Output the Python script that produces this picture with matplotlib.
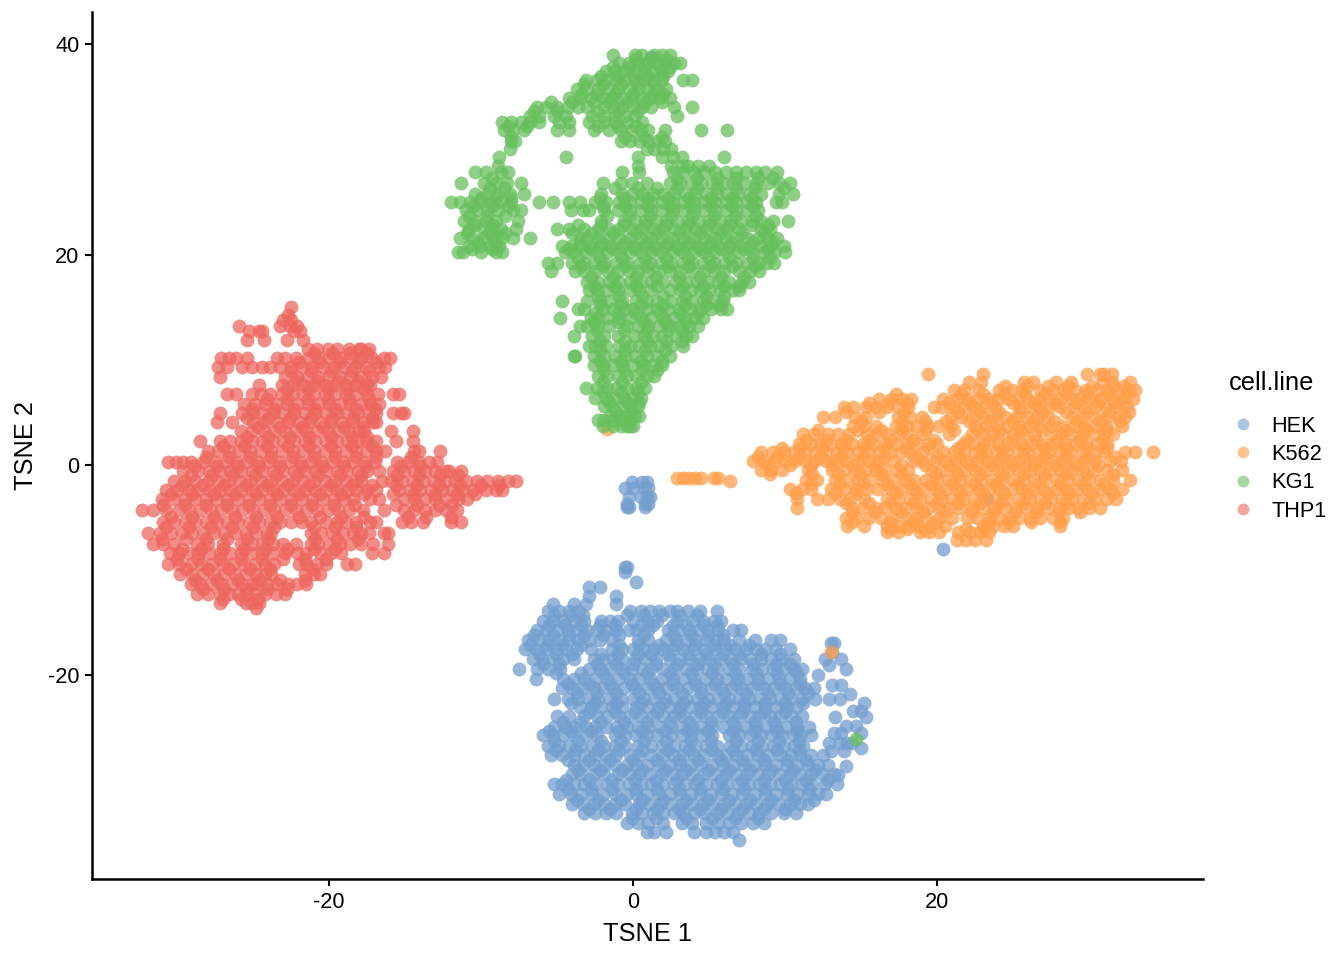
#!/usr/bin/python

import matplotlib
matplotlib.use("Agg")
import matplotlib.pyplot as plt
from matplotlib.lines import Line2D

plt.rcParams['font.family'] = ['Liberation Sans', 'DejaVu Sans']
plt.rcParams['axes.unicode_minus'] = False

# points, row by row: (TSNE 2, [TSNE 1 values])
hek_rows = [
    (-9.7, [-0.5, -0.4]), (-10.2, [-0.5]), (-11.1, [0.2]),
    (-1.6, [-0.1, 0.6, 0.9]), (-2.2, [-0.5, 0.0, 0.7, 1.0]), (-3.0, [-0.3, 0.5, 0.9, 1.1]),
    (-3.7, [-0.4, 0.8, 1.0]), (-4.0, [-0.4, -0.3, 0.8]),
    (-11.6, [-2.9, -2.2]), (-12.5, [-2.9, -1.1]), (-13.2, [-5.3, -3.9, -3.1, -1.1]),
    (-13.9, [-5.6, -4.9, -4.2, -3.6, -0.2, 0.5, 1.1, 1.7, 2.4, 2.9, 3.6, 4.4, 5.5]),
    (-14.8, [-5.9, -5.3, -4.6, -3.9, -3.2, -2.1, -1.5, -1.0, 0.0, 0.9, 1.6, 2.9, 3.9, 4.6, 5.3, 5.8]),
    (-15.7, [-6.3, -5.7, -5.0, -4.3, -3.7, -3.0, -2.4, -1.8, -1.1, -0.3, 0.2, 1.0, 2.3, 3.0, 3.7, 4.3, 4.9, 5.6, 6.6, 7.1]),
    (-16.6, [-6.9, -6.2, -5.6, -4.9, -4.2, -3.6, -2.9, -2.2, -1.4, 0.3, 1.0, 2.2, 2.8, 3.5, 4.1, 4.8, 5.5, 6.0, 7.0, 8.0, 9.1, 9.7]),
    (-17.5, [-7.1, -6.4, -5.7, -5.0, -4.4, -3.7, -2.8, -1.4, -0.7, 0.0, 0.7, 1.4, 2.0, 2.6, 3.3, 4.0, 4.7, 5.4, 6.1, 6.7, 7.4, 8.1, 8.7, 9.4, 10.3]),
    (-18.4, [-6.6, -6.0, -5.3, -4.6, -3.9, -2.6, -2.0, -1.3, -0.7, 0.1, 0.8, 1.5, 2.4, 3.1, 3.7, 4.4, 5.0, 5.7, 6.4, 7.1, 7.7, 8.4, 9.1, 9.8, 10.6]),
    (-19.4, [-7.5, -6.3, -5.6, -4.8, -2.9, -2.2, -1.5, -0.8, -0.1, 0.6, 1.2, 2.0, 2.7, 3.5, 4.2, 4.9, 5.5, 6.3, 7.0, 7.8, 8.5, 9.2, 9.9, 10.6, 11.1]),
    (-20.3, [-6.4, -4.6, -3.9, -3.2, -2.5, -1.7, -1.0, -0.2, 0.4, 1.1, 1.9, 2.6, 3.3, 4.0, 4.8, 5.5, 6.1, 6.9, 7.5, 8.2, 8.9, 9.6, 10.3, 11.0]),
    (-21.2, [-4.7, -4.0, -3.3, -2.6, -2.0, -1.3, -0.6, 0.1, 0.9, 1.6, 2.2, 2.9, 3.6, 4.4, 5.1, 5.8, 6.5, 7.1, 7.8, 8.6, 9.3, 10.0, 10.7, 11.3, 11.9]),
    (-22.2, [-5.2, -4.3, -3.6, -2.9, -2.3, -1.5, -0.8, 0.0, 0.7, 1.4, 2.1, 2.7, 3.5, 4.2, 4.9, 5.6, 6.3, 7.0, 7.6, 8.3, 9.0, 9.7, 10.4, 11.1, 12.0]),
    (-23.0, [-3.5, -2.8, -2.1, -1.4, -0.7, 0.2, 0.9, 1.7, 2.4, 3.1, 3.8, 4.4, 5.2, 5.9, 6.6, 7.3, 8.0, 8.7, 9.4, 10.1, 10.8]),
    (-23.9, [-5.0, -4.2, -3.2, -2.4, -1.7, -0.9, -0.2, 0.5, 1.3, 2.0, 2.7, 3.3, 4.1, 4.8, 5.6, 6.3, 7.0, 7.7, 8.3, 9.0, 9.7, 10.4, 11.1]),
    (-24.9, [-5.2, -4.5, -3.8, -3.1, -2.5, -1.8, -1.1, -0.4, 0.3, 1.0, 1.8, 2.5, 3.2, 3.9, 4.5, 5.2, 6.0, 6.7, 7.4, 8.1, 8.8, 9.4, 10.1, 10.8, 11.6]),
    (-25.7, [-5.9, -5.3, -4.6, -3.9, -3.1, -2.4, -1.2, -0.5, 0.2, 0.9, 1.6, 2.5, 3.2, 3.8, 4.5, 5.2, 6.3, 7.0, 7.7, 8.4, 9.1, 9.8, 10.5, 11.0, 11.7]),
    (-26.7, [-5.6, -4.9, -4.2, -3.4, -2.7, -1.9, -1.2, -0.5, 0.3, 1.2, 1.9, 2.7, 3.4, 4.1, 4.8, 5.5, 6.4, 7.1, 7.8, 8.5, 9.2, 9.9, 10.6, 11.2]),
    (-27.6, [-5.4, -4.7, -3.9, -3.2, -2.5, -1.8, -1.1, -0.2, 0.4, 1.2, 2.0, 2.6, 3.3, 4.0, 4.7, 5.5, 6.1, 6.8, 7.5, 8.2, 8.9, 9.7, 10.4, 11.0, 11.7, 12.5]),
    (-28.5, [-3.9, -3.3, -2.6, -1.9, -1.2, -0.4, 0.2, 0.9, 1.7, 2.4, 3.1, 3.8, 4.5, 5.2, 5.9, 6.6, 7.3, 8.0, 8.7, 9.4, 10.1, 10.8, 11.5, 12.2, 12.8]),
    (-29.4, [-4.0, -3.4, -2.6, -1.9, -1.0, -0.3, 0.4, 1.1, 1.9, 2.6, 3.2, 3.9, 4.7, 5.4, 6.1, 6.8, 7.5, 8.2, 8.9, 9.6, 10.3, 11.0, 11.7, 12.4, 13.2]),
    (-30.3, [-5.2, -4.7, -3.9, -3.2, -2.5, -1.7, -1.0, -0.3, 0.5, 1.2, 2.0, 2.7, 3.4, 4.1, 4.8, 5.5, 6.2, 6.9, 7.6, 8.3, 9.0, 9.7, 10.4, 11.1, 11.8, 12.6, 13.4]),
    (-31.3, [-4.9, -4.1, -3.4, -2.7, -2.0, -1.2, -0.4, 0.2, 0.9, 1.7, 2.4, 3.1, 3.8, 4.4, 5.1, 5.8, 6.5, 7.2, 8.0, 8.7, 9.4, 10.1, 10.8, 11.5, 12.2, 12.7]),
    (-32.2, [-4.0, -3.3, -2.6, -1.9, -1.2, -0.5, 0.4, 1.1, 1.8, 2.5, 3.2, 3.9, 4.6, 5.2, 6.0, 6.7, 7.4, 8.1, 8.8, 9.6, 10.3, 11.0, 11.5]),
    (-33.1, [-3.2, -2.5, -1.8, -1.1, -0.1, 0.6, 1.3, 2.0, 2.7, 3.3, 4.0, 4.7, 5.5, 6.2, 6.9, 7.6, 8.3, 9.1, 9.9, 10.7]),
    (-34.0, [-0.4, 0.3, 1.0, 2.0, 3.2, 3.9, 4.8, 5.6, 6.3, 7.1, 7.9, 8.6]),
    (-34.9, [0.9, 1.4, 2.2, 4.0, 4.8, 5.4, 6.0, 6.6]), (-35.6, [7.0]),
    # small group on the right side
    (-16.9, [13.0, 13.2]), (-17.8, [13.1]), (-18.4, [12.6, 13.7]), (-19.0, [12.9]),
    (-19.4, [14.0]), (-20.0, [12.2]), (-20.9, [13.1, 13.7]), (-21.8, [14.3]), (-22.2, [12.9, 13.6]),
    (-22.6, [15.2]), (-23.4, [14.5, 15.0]), (-24.0, [13.3, 15.3]), (-24.8, [14.0, 14.7]), (-25.5, [13.2, 13.7, 15.0]),
    (-26.4, [12.9, 13.6, 14.1, 14.4]), (-27.2, [13.0, 13.9]), (-26.9, [15.0]), (-28.6, [14.0]), (-29.5, [13.5]),
]
# second pass over the dense parts
hek_core = [
    (-14.3, [-5.2, -4.1, -3.3, -0.4, 0.7, 1.9, 3.1, 4.2]),
    (-15.2, [-5.5, -4.5, -3.4, -2.2, -1.2, 0.5, 1.3, 2.6, 3.5, 4.6, 5.5]),
    (-16.2, [-6.5, -5.3, -4.2, -3.2, -2.0, -0.9, 0.7, 2.6, 3.8, 4.9, 5.9]),
    (-17.1, [-6.8, -5.6, -4.7, -3.4, -0.9, 0.4, 1.7, 2.9, 4.1, 5.3, 6.4, 7.6]),
    (-18.0, [-6.2, -5.1, -4.0, -2.1, -1.0, 0.3, 1.2, 2.3, 3.6, 4.8, 5.9, 7.0, 8.4, 9.7]),
    (-18.9, [-5.9, -4.9, -2.4, -1.1, 0.0, 1.5, 2.9, 4.2, 5.3, 6.6, 7.9, 9.4, 10.3]),
    (-19.8, [-5.1, -3.4, -2.0, -0.6, 0.9, 2.4, 3.8, 5.2, 6.7, 8.1, 9.5, 10.8]),
    (-20.8, [-4.3, -2.9, -1.5, -0.1, 1.3, 2.6, 4.1, 5.4, 6.8, 8.2, 9.7, 11.0]),
    (-21.7, [-3.7, -2.4, -1.1, 0.4, 1.7, 3.2, 4.5, 6.0, 7.4, 8.9, 10.2, 11.5]),
    (-22.6, [-4.1, -2.5, -1.1, 0.5, 2.0, 3.3, 4.7, 6.1, 7.3, 8.7, 10.0, 11.2]),
    (-23.5, [-2.9, -1.2, 0.1, 1.6, 3.0, 4.5, 5.9, 7.2, 8.6, 10.0]),
    (-24.4, [-4.6, -3.5, -2.1, -0.6, 0.9, 2.4, 3.7, 5.1, 6.6, 8.0, 9.3, 10.7]),
    (-25.3, [-5.5, -4.1, -2.8, -0.9, 0.6, 2.1, 3.6, 4.9, 6.6, 8.0, 9.5, 10.8]),
    (-26.2, [-5.2, -3.6, -2.1, -0.8, 0.7, 2.2, 3.8, 5.1, 6.8, 8.2, 9.6, 10.9]),
    (-27.1, [-5.1, -3.8, -2.3, -0.9, 0.6, 2.3, 3.7, 5.2, 6.6, 8.1, 9.5, 10.9]),
    (-28.0, [-4.3, -2.9, -1.5, 0.0, 1.6, 3.0, 4.3, 5.8, 7.2, 8.6, 10.1, 11.4]),
    (-29.0, [-3.6, -2.2, -0.7, 0.6, 2.1, 3.5, 4.9, 6.3, 7.7, 9.1, 10.5, 12.0]),
    (-29.9, [-4.4, -2.9, -1.4, 0.1, 1.5, 2.9, 4.3, 5.8, 7.2, 8.6, 10.0, 11.4, 12.8]),
    (-30.8, [-4.3, -2.8, -1.4, 0.2, 1.6, 3.0, 4.4, 5.9, 7.3, 8.7, 10.2, 11.6]),
    (-31.8, [-3.7, -2.3, -0.8, 0.6, 2.0, 3.5, 4.9, 6.3, 7.7, 9.1, 10.6, 11.9]),
    (-32.7, [-2.9, -1.5, 0.2, 1.6, 3.0, 4.4, 5.8, 7.2, 8.6, 10.0]),
    (-33.6, [-0.1, 1.5, 3.5, 5.2, 6.7, 8.2]),
]

k562_rows = [
    (8.6, [19.4, 23.0, 29.9, 30.7, 31.0, 31.5]), (7.9, [22.1, 22.9, 25.7, 26.3, 27.8, 28.8, 30.9, 31.5, 32.7]),
    (7.1, [21.1, 21.8, 22.7, 24.1, 24.9, 25.6, 26.8, 27.6, 28.3, 29.1, 29.8, 30.5, 31.2, 31.9, 32.6, 33.0]),
    (6.3, [16.2, 17.0, 17.7, 18.3, 20.4, 21.3, 22.0, 22.7, 23.4, 24.0, 24.7, 25.3, 26.0, 26.7, 27.4, 28.1, 28.8, 29.4, 30.1, 30.8, 31.5, 32.2, 32.9]),
    (5.5, [13.9, 14.5, 15.3, 16.0, 16.7, 17.4, 18.1, 19.8, 20.3, 21.1, 21.8, 22.4, 23.1, 23.8, 25.4, 26.1, 26.7, 27.4, 28.1, 29.0, 29.7, 30.4, 31.1, 31.8, 32.5]),
    (4.6, [12.5, 13.3, 14.6, 15.3, 17.4, 18.2, 19.0, 20.9, 21.6, 22.3, 23.0, 23.7, 24.5, 25.2, 25.9, 26.6, 27.3, 28.9, 29.6, 30.4, 31.1, 31.9, 32.4]),
    (3.7, [14.5, 15.2, 16.0, 17.3, 18.0, 18.7, 19.4, 20.1, 20.9, 22.5, 23.2, 24.0, 24.7, 25.4, 26.1, 26.8, 27.5, 28.2, 29.0, 29.7, 30.4, 31.1, 32.2]),
    (2.9, [11.2, 11.9, 12.8, 13.5, 14.2, 15.4, 16.0, 16.7, 17.5, 18.1, 19.0, 20.8, 22.3, 23.0, 23.6, 24.3, 25.0, 25.7, 26.4, 27.5, 28.2, 28.9, 29.6, 30.3, 31.0, 31.6]),
    (2.0, [10.9, 11.7, 12.3, 13.0, 13.7, 14.4, 15.1, 15.8, 16.6, 17.3, 18.0, 18.7, 19.4, 20.0, 21.7, 22.4, 23.1, 24.0, 24.7, 25.5, 26.2, 26.9, 27.6, 28.4, 29.1, 29.8, 30.5, 31.2]),
    (1.2, [8.4, 9.2, 9.9, 10.6, 11.3, 12.0, 12.7, 13.4, 14.1, 14.8, 15.5, 16.2, 16.9, 17.6, 18.2, 19.1, 20.4, 21.1, 21.8, 22.5, 23.2, 23.9, 24.6, 25.3, 26.0, 26.7, 27.4, 28.1, 28.8, 29.6, 30.4, 31.0, 32.4, 33.0, 34.2]),
    (0.4, [7.9, 8.6, 9.3, 10.0, 10.6, 11.3, 12.0, 12.7, 13.3, 14.0, 14.8, 15.5, 16.2, 17.1, 18.4, 19.0, 19.8, 20.5, 21.2, 21.9, 22.6, 23.3, 24.0, 24.7, 25.4, 26.1, 26.8, 27.5, 28.2, 28.9, 29.7, 30.4, 31.4, 32.1]),
    (-0.5, [8.4, 9.1, 9.8, 11.5, 13.1, 13.9, 14.6, 15.3, 16.0, 16.6, 17.4, 18.1, 19.6, 20.3, 21.1, 21.8, 22.5, 23.2, 24.0, 24.7, 25.4, 26.1, 26.8, 27.4, 28.1, 28.9, 29.6, 30.3, 31.2, 32.2]),
    (-1.4, [11.4, 12.1, 13.3, 14.1, 14.8, 15.5, 16.4, 17.1, 17.9, 18.5, 19.3, 20.0, 20.7, 21.5, 22.2, 22.9, 23.6, 24.3, 25.0, 25.7, 26.4, 27.1, 27.9, 28.6, 29.3, 30.0, 30.7, 31.6, 32.7]),
    (-2.3, [10.3, 11.1, 11.7, 13.0, 13.9, 14.7, 15.4, 16.1, 17.0, 17.7, 18.4, 19.1, 19.9, 20.6, 21.3, 22.0, 22.7, 23.4, 24.1, 24.9, 25.6, 26.3, 27.0, 27.8, 28.5, 29.2, 29.9, 30.7, 31.4, 32.2]),
    (-3.2, [10.8, 12.1, 12.8, 13.6, 14.3, 15.2, 16.7, 17.4, 18.2, 18.9, 19.6, 20.3, 21.0, 21.7, 22.4, 23.2, 23.9, 24.6, 25.4, 26.1, 26.8, 27.5, 28.2, 28.9, 29.6, 30.4, 31.2, 31.8]),
    (-4.1, [10.8, 14.4, 15.1, 16.0, 16.6, 17.3, 17.9, 18.7, 19.4, 20.1, 20.8, 21.5, 22.3, 23.0, 23.8, 24.5, 25.2, 25.9, 26.6, 27.3, 28.0, 28.7, 29.3, 30.0, 30.7]),
    (-5.0, [14.0, 14.7, 15.5, 16.3, 17.1, 18.0, 18.6, 19.3, 20.1, 21.0, 22.0, 22.6, 23.4, 24.1, 24.8, 25.4, 26.1, 26.8, 27.6, 28.3]),
    (-5.8, [14.1, 15.2, 16.7, 17.4, 18.1, 18.8, 19.6, 20.5, 23.0, 23.7, 24.4, 25.0, 28.1]),
    (-6.4, [16.7, 17.4, 18.9, 19.5, 20.1, 21.4, 22.2, 22.8, 23.4]), (-7.1, [21.3, 21.9, 22.5, 23.2]),
    # small run between the clusters
    (-1.2, [2.9, 3.3, 3.7, 4.1, 4.5, 5.3, 5.6]), (-1.5, [6.4]),
]
k562_core = [
    (7.5, [24.5, 25.9, 27.3, 28.6, 30.2, 31.6, 32.3]),
    (6.7, [17.3, 21.6, 23.0, 24.4, 25.8, 27.1, 28.5, 29.9, 31.3, 32.5]),
    (5.9, [15.5, 16.8, 18.0, 20.8, 22.2, 23.6, 25.0, 26.4, 27.8, 29.2, 30.6, 32.0]),
    (5.0, [14.0, 16.2, 17.8, 21.4, 22.8, 24.1, 25.5, 26.9, 28.5, 29.9, 31.3, 32.6]),
    (4.2, [15.0, 17.7, 19.2, 20.6, 22.1, 23.5, 24.9, 26.3, 27.7, 29.2, 30.7, 32.0]),
    (3.3, [12.2, 14.8, 16.3, 17.7, 19.3, 21.1, 22.7, 24.1, 25.5, 26.9, 28.4, 29.8, 31.2]),
    (2.4, [11.4, 12.7, 14.0, 15.5, 16.9, 18.4, 19.8, 22.0, 23.5, 25.0, 26.5, 27.9, 29.4, 30.9]),
    (1.6, [9.8, 11.0, 12.4, 13.8, 15.2, 16.6, 18.0, 19.5, 21.4, 22.9, 24.3, 25.7, 27.1, 28.5, 29.9, 31.2]),
    (0.8, [8.2, 9.5, 10.9, 12.3, 13.7, 15.1, 16.5, 18.6, 20.0, 21.5, 22.9, 24.3, 25.7, 27.1, 28.5, 29.9, 31.7]),
    (0.0, [8.9, 10.3, 11.7, 13.1, 14.5, 15.9, 17.6, 19.2, 20.8, 22.2, 23.6, 25.0, 26.4, 27.8, 29.2, 30.6]),
    (-0.9, [9.0, 11.8, 13.5, 14.9, 16.3, 17.7, 19.9, 21.4, 22.8, 24.3, 25.7, 27.1, 28.5, 29.9, 31.6]),
    (-1.8, [11.7, 13.6, 15.1, 16.7, 18.2, 19.6, 21.0, 22.5, 23.9, 25.3, 26.7, 28.1, 29.6, 31.0]),
    (-2.7, [10.7, 13.3, 14.7, 17.3, 18.7, 20.2, 21.6, 23.0, 24.4, 25.9, 27.3, 28.7, 30.2, 31.6]),
    (-3.6, [14.0, 15.5, 17.0, 18.5, 20.0, 21.4, 22.8, 24.2, 25.7, 27.1, 28.5, 30.0]),
    (-4.5, [14.4, 15.9, 17.6, 19.1, 20.5, 22.3, 23.7, 25.1, 26.5, 28.0, 29.4]),
    (-5.4, [14.4, 16.9, 18.4, 19.9, 23.4, 24.7, 26.2, 28.1]),
    (-6.1, [17.0, 18.0, 19.2, 21.9, 23.1]),
]
k562_extra_x = [-1.7, 13.0]
k562_extra_y = [3.4, -17.8]

kg1_rows = [
    (39.0, [-1.3, 0.1, 0.6, 1.4, 1.9, 2.4]), (38.2, [-0.9, -0.3, 0.3, 0.9, 1.5, 2.1, 2.7, 3.1]),
    (37.4, [-1.8, -1.2, -0.6, 0.1, 0.7, 1.3, 1.9, 2.3]), (36.6, [-3.1, -2.4, -1.8, -1.1, -0.5, 0.1, 0.7, 1.3, 1.9, 3.3, 3.9]),
    (35.7, [-3.7, -3.0, -2.3, -1.6, -1.0, -0.3, 0.4, 1.0, 1.6, 2.2]), (34.9, [-4.2, -3.5, -2.8, -2.0, -1.4, -0.7, -0.1, 0.5, 1.1, 1.7, 2.4]),
    (34.0, [-6.3, -5.7, -5.0, -4.3, -3.6, -3.0, -1.9, -1.3, -0.7, 0.0, 0.6, 1.2, 2.7, 3.9]),
    (33.2, [-6.8, -6.2, -5.2, -4.4, -2.7, -1.9, -1.2, -0.5, 0.1, 2.9]),
    (32.6, [-8.6, -8.0, -7.4, -6.8, -6.2, -4.9, -4.2, -2.9, -1.9, -1.2, -0.4, 0.6]),
    (31.8, [-8.5, -7.9, -7.2, -5.0, -4.2, -2.6, -1.6, -0.8, -0.1, 0.5, 1.0, 2.1, 4.5, 6.2]),
    (30.8, [-8.0, -7.8, -0.8, -0.2, 0.4, 1.0, 1.6, 2.1]), (30.0, [-8.1, 0.9, 1.4, 2.0, 2.5]),
    (29.3, [-8.8, -4.4, 0.3, 1.9, 2.6, 3.2, 6.0]), (28.4, [-8.9, 0.3, 2.5, 3.3, 3.6, 4.3, 5.0]),
    (27.8, [-10.4, -9.7, -8.7, -8.2, -0.7, 0.4, 2.6, 3.3, 4.0, 4.7, 5.4, 6.1, 6.8, 7.4, 8.1, 8.7, 9.5]),
    (26.8, [-11.3, -9.8, -9.0, -8.3, -7.4, -2.0, -0.8, -0.1, 0.9, 2.4, 3.1, 3.8, 4.5, 5.2, 5.9, 6.6, 7.3, 8.1, 8.9, 9.6, 10.3]),
    (25.8, [-10.4, -9.6, -8.9, -8.1, -7.2, -2.1, -0.7, 0.0, 0.6, 1.3, 2.0, 2.7, 3.4, 4.1, 4.8, 5.5, 6.2, 6.9, 7.6, 8.4, 9.6, 10.5]),
    (25.0, [-12.0, -11.4, -10.7, -10.1, -9.4, -8.7, -8.0, -6.2, -5.3, -4.2, -3.5, -2.5, -1.8, -0.9, -0.2, 0.5, 1.2, 1.9, 2.6, 3.3, 4.0, 4.7, 5.4, 6.1, 6.8, 7.5, 8.1, 9.4, 9.8]),
    (24.2, [-11.0, -10.3, -9.6, -8.9, -7.9, -7.4, -4.1, -3.3, -2.9, -1.9, -1.0, -0.2, 0.5, 1.2, 1.9, 2.6, 3.3, 4.0, 4.7, 5.4, 6.1, 6.8, 7.5, 8.2]),
    (23.2, [-11.1, -10.4, -9.7, -9.0, -7.6, -2.1, -0.6, 0.1, 0.8, 1.5, 2.2, 2.9, 3.6, 4.3, 5.0, 5.7, 6.4, 7.1, 7.8, 8.4, 9.2, 10.2]),
    (22.4, [-10.8, -9.9, -9.3, -8.7, -7.7, -5.0, -4.2, -3.2, -2.3, -1.6, -0.9, -0.1, 0.6, 1.3, 2.0, 2.7, 3.4, 4.1, 4.8, 5.5, 6.2, 7.0, 8.4, 9.0]),
    (21.6, [-11.4, -10.6, -9.9, -9.2, -8.6, -7.9, -6.8, -3.5, -3.0, -2.3, -1.6, -0.9, -0.2, 0.5, 1.2, 1.9, 2.6, 3.3, 4.0, 4.7, 5.4, 6.1, 6.8, 7.5, 8.2, 8.9, 9.5]),
    (20.8, [-10.8, -10.1, -9.4, -8.8, -4.7, -4.1, -3.5, -2.9, -2.2, -1.5, -0.7, 0.0, 0.7, 1.4, 2.1, 2.8, 3.5, 4.2, 4.9, 5.6, 6.3, 7.0, 7.7, 8.4, 9.1, 9.9]),
    (20.2, [-11.5, -11.2, -10.0, -9.0, -8.6, -4.5, -3.9, -3.1, -2.4, -1.7, -0.9, -0.2, 0.5, 1.2, 1.9, 2.6, 3.3, 4.0, 4.7, 5.4, 6.2, 7.0, 7.8, 8.6, 9.3, 10.0]),
    (19.2, [-5.6, -5.0, -4.0, -3.2, -2.6, -1.9, -1.1, -0.4, 0.4, 1.1, 1.8, 2.5, 3.2, 3.9, 4.6, 5.3, 6.0, 6.8, 7.5, 8.3, 8.8, 9.3]),
    (18.4, [-5.4, -3.8, -3.2, -2.5, -1.7, -1.0, -0.3, 0.3, 1.0, 1.7, 2.4, 3.1, 3.9, 4.7, 5.3, 6.0, 7.0, 7.7, 8.3]),
    (17.4, [-3.0, -2.3, -1.6, -0.9, -0.2, 0.5, 1.2, 2.0, 2.8, 3.5, 4.2, 4.9, 5.6, 6.3, 7.2, 7.6]),
    (16.6, [-2.9, -2.4, -1.7, -1.0, -0.2, 0.4, 1.2, 2.4, 3.1, 3.8, 4.4, 5.0, 5.7, 6.6, 7.0]),
    (15.6, [-4.7, -3.0, -2.2, -1.5, -0.7, 0.2, 0.9, 1.6, 2.5, 3.2, 3.9, 4.6, 5.3, 5.9]),
    (14.8, [-3.6, -3.2, -2.0, -1.3, -0.5, 0.0, 0.9, 1.6, 2.3, 3.0, 3.8, 4.4, 5.1, 5.8, 6.2]),
    (14.0, [-4.8, -2.8, -2.3, -1.7, -0.9, -0.2, 0.5, 1.2, 2.0, 2.7, 3.4, 4.1, 4.6]),
    (13.2, [-3.5, -3.0, -2.3, -1.6, -0.4, 0.3, 1.0, 1.7, 2.4, 3.1, 3.7, 4.3]),
    (12.3, [-3.9, -2.7, -1.9, -1.0, 0.1, 0.7, 1.3, 1.9, 2.8, 3.5, 3.9]),
    (11.3, [-2.9, -2.5, -1.8, -0.9, -0.2, 0.4, 1.1, 1.7, 2.5, 3.3]),
    (10.4, [-3.9, -3.8, -2.6, -1.9, -1.2, -0.5, 0.1, 0.9, 1.6, 2.4]),
    (9.5, [-2.6, -2.0, -1.3, -0.7, 0.0, 0.7, 1.3, 1.9]), (8.5, [-2.3, -1.7, -1.0, -0.4, 0.2, 0.9, 1.4]),
    (7.3, [-3.1, -2.4, -1.7, -1.1, -0.4, 0.2, 0.8]), (6.4, [-2.5, -1.8, -1.2, -0.6, 0.0, 0.5]),
    (5.6, [-1.9, -1.4, -0.6, -0.2, 0.3]), (4.7, [-1.5, -0.9, -0.4, 0.1, 0.4]),
    (4.3, [-2.3, -1.9, -1.3, -0.7, -0.2]), (3.7, [-2.0, -1.3, -0.8, -0.4, -0.2, 0.0]),
]
kg1_core = [
    (38.6, [0.2, 1.2, 2.2]), (37.8, [-1.3, -0.3, 0.7, 1.8, 2.4]), (37.0, [-2.1, -1.0, 0.0, 1.0, 2.0]),
    (36.2, [-3.2, -2.0, -0.8, 0.3, 1.4]), (35.3, [-3.4, -2.4, -1.2, 0.0, 1.3, 2.0]),
    (34.5, [-5.4, -4.0, -2.6, -1.6, -0.4, 0.8, 1.9]), (33.6, [-6.5, -5.0, -2.4, -1.0, 0.3]),
    (32.2, [-8.2, -7.0, -2.3, -1.0, 0.2]), (31.2, [-8.0, -0.5, 0.7, 1.9]),
    (27.3, [-9.3, 2.9, 4.2, 5.5, 6.8, 8.2, 9.2]),
    (26.3, [-9.4, -8.5, -1.2, 0.3, 1.6, 2.9, 4.2, 5.5, 6.8, 8.0, 9.9]),
    (25.4, [-10.0, -9.0, -8.0, -2.2, -0.6, 0.9, 2.3, 3.7, 5.1, 6.5, 7.8]),
    (24.6, [-10.5, -9.3, -8.2, -2.0, -0.5, 1.0, 2.4, 3.8, 5.1, 6.5, 7.9]),
    (23.7, [-10.8, -9.6, -8.4, -1.7, -0.3, 1.1, 2.5, 3.9, 5.3, 6.7, 8.1]),
    (22.8, [-10.4, -9.2, -3.6, -2.1, -0.6, 0.8, 2.2, 3.6, 5.0, 6.4, 7.8, 8.9]),
    (22.0, [-10.9, -9.5, -8.4, -4.0, -2.7, -1.3, 0.2, 1.6, 3.0, 4.4, 5.8, 7.2, 8.6]),
    (21.2, [-10.2, -9.1, -3.5, -2.1, -0.5, 0.9, 2.3, 3.7, 5.1, 6.5, 7.9, 9.2]),
    (20.5, [-10.6, -9.3, -4.2, -2.8, -1.3, 0.1, 1.5, 3.0, 4.4, 5.8, 7.3, 8.9]),
    (19.7, [-3.6, -2.2, -0.7, 0.8, 2.2, 3.6, 5.0, 6.4, 7.9, 9.0]),
    (18.9, [-3.4, -2.0, -0.5, 0.9, 2.3, 3.7, 5.1, 6.5, 8.0]),
    (17.9, [-2.8, -1.3, 0.2, 1.5, 3.0, 4.4, 5.8, 7.3]),
    (17.0, [-2.6, -1.2, 0.2, 1.6, 3.2, 4.6, 6.0, 7.0]),
    (16.1, [-2.3, -0.9, 0.6, 2.0, 3.4, 4.8, 6.0]),
    (15.2, [-2.2, -0.8, 0.5, 2.0, 3.4, 4.8, 5.7]),
    (14.4, [-2.5, -1.0, 0.2, 1.8, 3.1, 4.3]), (13.6, [-2.6, -1.0, 0.7, 2.1, 3.5]),
    (12.8, [-2.4, -0.6, 0.9, 2.3, 3.2]), (11.8, [-2.2, -0.5, 0.9, 2.2, 3.2]),
    (10.9, [-2.2, -0.5, 0.8, 2.1]), (9.9, [-2.2, -0.8, 0.5, 1.9]), (9.0, [-1.9, -0.6, 0.6, 1.6]),
    (7.9, [-2.0, -0.7, 0.5]), (6.9, [-2.0, -0.8, 0.3]), (6.0, [-1.6, -0.4, 0.4]), (5.1, [-1.2, -0.1]),
]
kg1_extra_x = [14.7]
kg1_extra_y = [-26.0]

thp1_rows = [
    (15.0, [-22.5]), (14.3, [-22.7]), (13.8, [-23.0, -22.5]), (13.2, [-25.9, -23.2, -22.6, -22.1]),
    (12.7, [-25.3, -24.6, -24.4, -22.3, -21.9]), (11.9, [-25.4, -24.3, -22.8, -21.7]),
    (11.0, [-21.4, -20.8, -20.1, -19.5, -18.7, -18.0, -17.9, -17.4]),
    (10.2, [-27.1, -26.6, -26.1, -25.4, -23.4, -22.9, -22.2, -21.4, -20.7, -20.0, -19.3, -18.5, -17.9, -17.2, -16.4, -16.0]),
    (9.3, [-27.3, -26.7, -25.7, -25.1, -24.4, -23.9, -23.2, -22.5, -21.8, -21.1, -20.4, -19.7, -19.0, -18.3, -17.6, -16.7, -16.3]),
    (8.4, [-27.2, -22.9, -22.1, -21.4, -20.7, -20.0, -19.3, -18.6, -17.9, -17.2, -16.6]),
    (7.6, [-24.6, -23.1, -22.4, -21.7, -21.0, -20.3, -19.6, -18.9, -18.2, -17.5, -17.3]),
    (6.7, [-26.7, -26.1, -25.1, -24.5, -23.9, -23.1, -22.4, -21.7, -21.0, -20.3, -19.6, -18.9, -18.2, -17.5, -16.8, -15.8, -15.4]),
    (5.8, [-25.6, -24.9, -24.2, -23.5, -22.8, -22.1, -21.4, -20.7, -20.0, -19.3, -18.6, -17.9, -17.3, -16.7]),
    (4.9, [-27.2, -25.7, -25.0, -24.4, -23.7, -23.0, -22.3, -21.6, -20.9, -20.2, -19.5, -18.8, -18.1, -17.4, -16.9, -15.8, -15.3, -15.1]),
    (4.1, [-27.4, -26.4, -25.0, -24.3, -23.4, -22.7, -22.0, -21.3, -20.6, -19.9, -19.2, -18.5, -17.8, -17.1, -16.9]),
    (3.2, [-25.8, -25.1, -24.3, -23.6, -22.9, -22.2, -21.5, -20.8, -20.1, -19.4, -18.7, -18.0, -17.7, -15.9, -14.5]),
    (2.3, [-28.5, -27.2, -26.5, -25.8, -25.1, -24.4, -23.7, -23.0, -22.3, -21.6, -20.9, -20.2, -19.5, -18.8, -18.1, -17.6, -16.9, -15.6, -14.5]),
    (1.3, [-28.0, -27.3, -26.6, -25.9, -25.2, -24.5, -23.8, -23.1, -22.4, -21.7, -21.0, -20.3, -19.6, -18.9, -18.2, -17.5, -16.9, -16.3, -14.4, -14.1, -12.7]),
    (0.3, [-30.6, -30.1, -29.6, -29.1, -28.3, -27.5, -26.8, -26.1, -25.4, -24.7, -24.0, -23.3, -22.6, -21.9, -21.2, -20.5, -19.8, -19.1, -18.4, -17.7, -17.0, -15.5, -14.8, -14.1, -13.4, -12.9]),
    (-0.6, [-29.6, -28.6, -27.9, -27.2, -26.5, -25.8, -25.1, -24.4, -23.7, -23.0, -22.3, -21.6, -20.9, -20.2, -19.5, -18.8, -18.1, -17.5, -16.7, -15.8, -15.1, -14.4, -13.7, -13.0, -12.3, -12.1, -11.3]),
    (-1.5, [-30.2, -29.5, -28.8, -28.0, -27.3, -26.6, -25.9, -25.2, -24.5, -23.8, -23.1, -22.4, -21.7, -21.0, -20.3, -19.6, -18.9, -18.2, -17.9, -16.5, -15.9, -15.2, -14.5, -13.8, -13.1, -12.4, -11.7, -11.0, -10.3, -9.6, -8.9, -8.2, -7.7]),
    (-2.4, [-30.7, -30.0, -29.2, -28.7, -27.9, -27.2, -26.5, -25.8, -25.1, -24.4, -23.7, -23.0, -22.3, -21.6, -20.9, -20.2, -19.5, -18.8, -18.2, -17.5, -16.9, -15.4, -14.7, -14.0, -13.3, -12.6, -11.9, -11.2, -10.5, -9.7, -9.0, -8.6]),
    (-3.2, [-31.0, -30.2, -29.5, -28.8, -28.1, -27.4, -26.7, -26.0, -25.3, -24.6, -23.9, -23.2, -22.5, -21.8, -21.1, -20.4, -19.7, -19.0, -18.4, -17.3, -16.7, -15.1, -14.4, -13.7, -13.0, -12.3, -11.5, -10.9]),
    (-4.3, [-32.3, -31.6, -30.7, -29.9, -29.2, -28.5, -27.8, -27.1, -26.4, -25.7, -25.0, -24.3, -23.6, -22.9, -22.2, -21.5, -20.8, -20.1, -19.4, -18.7, -17.8, -16.4, -15.1, -14.4, -13.7, -13.0, -12.3, -11.6]),
    (-5.4, [-30.9, -30.2, -29.5, -28.8, -28.1, -27.4, -26.7, -26.0, -25.3, -24.6, -23.9, -23.2, -22.5, -21.8, -21.2, -20.2, -19.5, -18.9, -18.2, -17.3, -16.9, -15.2, -14.6, -13.8, -12.0, -11.3]),
    (-6.5, [-31.9, -31.1, -30.4, -29.7, -29.0, -28.3, -27.6, -26.9, -26.2, -25.5, -24.8, -24.1, -23.8, -21.2, -20.5, -19.8, -19.1, -18.4, -17.9, -17.4, -16.4, -16.1]),
    (-7.5, [-31.6, -30.9, -30.2, -28.7, -28.0, -27.0, -25.8, -25.1, -24.4, -23.7, -23.0, -22.2, -21.2, -20.7, -20.0, -19.3, -18.6, -17.9, -17.1, -16.1]),
    (-8.4, [-30.5, -29.9, -29.3, -28.6, -27.9, -27.2, -26.5, -25.8, -25.1, -24.4, -23.7, -22.9, -22.1, -21.5, -20.6, -19.9, -19.2, -17.2, -16.4]),
    (-9.4, [-30.6, -29.9, -29.1, -28.4, -27.7, -27.0, -26.3, -25.6, -24.9, -24.2, -23.6, -22.0, -21.5, -20.8, -20.2, -18.8, -18.3]),
    (-10.4, [-29.8, -29.0, -28.3, -27.6, -26.9, -26.2, -25.5, -24.8, -24.2, -23.8, -21.6, -21.0, -20.6]),
    (-11.3, [-29.1, -28.5, -27.8, -27.1, -26.4, -25.7, -25.0, -24.8, -24.1, -23.4, -22.7, -22.1, -21.5]),
    (-12.3, [-28.7, -28.0, -27.2, -26.6, -26.0, -25.4, -24.9, -24.2, -23.5, -22.9]),
    (-13.1, [-27.2, -25.5, -25.1, -24.6]), (-13.6, [-24.8]),
]
thp1_core = [
    (10.6, [-21.0, -19.8, -18.6, -17.5]), (9.8, [-22.0, -20.6, -19.3, -18.1, -16.9]),
    (8.9, [-22.5, -21.2, -19.9, -18.5, -17.4]), (8.0, [-22.1, -20.7, -19.4, -18.1]),
    (7.2, [-22.8, -21.4, -20.1, -18.8, -17.7]), (6.3, [-24.1, -22.8, -21.4, -20.1, -18.7, -17.4]),
    (5.3, [-25.1, -23.6, -22.3, -20.9, -19.6, -18.2, -17.0]), (4.5, [-25.4, -24.0, -22.6, -21.2, -19.8, -18.4, -17.2]),
    (3.6, [-24.7, -23.2, -21.8, -20.4, -19.0, -17.8]), (2.7, [-25.4, -24.0, -22.6, -21.3, -19.9, -18.5, -17.5]),
    (1.8, [-27.0, -25.6, -24.1, -22.7, -21.3, -19.9, -18.5, -17.2]),
    (0.8, [-28.1, -26.6, -25.2, -23.8, -22.4, -21.0, -19.6, -18.2, -16.9, -14.6]),
    (-0.1, [-28.8, -27.4, -26.0, -24.6, -23.2, -21.8, -20.4, -19.0, -17.6, -15.3, -14.0]),
    (-1.0, [-29.1, -27.7, -26.3, -24.9, -23.5, -22.1, -20.7, -19.3, -17.9, -15.5, -14.1, -12.7, -11.5]),
    (-1.9, [-29.7, -28.3, -26.9, -25.5, -24.1, -22.7, -21.3, -19.9, -18.5, -17.2, -15.6, -14.2, -12.8, -11.4, -10.0, -8.8]),
    (-2.8, [-30.4, -29.0, -27.6, -26.2, -24.8, -23.4, -22.0, -20.6, -19.2, -17.7, -15.8, -14.4, -13.0, -11.6, -10.4]),
    (-3.8, [-30.9, -29.5, -28.1, -26.7, -25.3, -23.9, -22.5, -21.1, -19.7, -18.3, -15.6, -14.2, -12.8, -11.9]),
    (-4.9, [-30.4, -29.0, -27.6, -26.2, -24.8, -23.4, -22.0, -20.6, -19.2, -17.7, -14.8, -13.6, -12.0]),
    (-5.9, [-30.7, -29.2, -27.8, -26.4, -25.0, -23.6, -21.0, -19.6, -18.2]),
    (-7.0, [-31.0, -29.4, -28.1, -26.7, -25.4, -24.0, -20.9, -19.5, -18.1]),
    (-8.0, [-29.7, -28.4, -27.0, -25.6, -24.2, -22.8, -21.0, -19.6]),
    (-8.9, [-30.0, -28.6, -27.2, -25.8, -24.4, -23.0, -21.6, -20.2]),
    (-9.9, [-29.4, -28.0, -26.6, -25.2, -23.9, -21.1]), (-10.9, [-28.8, -27.4, -26.0, -24.6, -23.2, -21.6]),
    (-11.8, [-28.3, -26.9, -25.5, -24.1, -22.8]), (-12.7, [-27.0, -25.8, -24.7]),
]

hek_extra_x = [1.2, 20.4, 23.3]
hek_extra_y = [38.8, -8.0, -3.2]

cell_lines = ['HEK', 'K562', 'KG1', 'THP1']
colours = ['#729ECE', '#FF9E4A', '#67BF5C', '#ED665D']
xticks = [-20, 0, 20]
yticks = [-20, 0, 20, 40]


def flatten(rows, core, extra_x=(), extra_y=()):
    xs = [x for y, row in rows + core for x in row] + list(extra_x)
    ys = [y for y, row in rows + core for x in row] + list(extra_y)
    return xs, ys


series = [
    flatten(hek_rows, hek_core, hek_extra_x, hek_extra_y),
    flatten(k562_rows, k562_core, k562_extra_x, k562_extra_y),
    flatten(kg1_rows, kg1_core, kg1_extra_x, kg1_extra_y),
    flatten(thp1_rows, thp1_core),
]

fig = plt.figure(figsize=(13.44, 9.6), dpi=100)
ax = fig.add_axes([92 / 1344, 81 / 960, 1111 / 1344, 867 / 960])

for (xs, ys), colour in zip(series, colours):
    ax.scatter(xs, ys, s=100, color=colour, alpha=0.75, linewidths=0)

ax.set_xlim(-35.6, 37.5)
ax.set_ylim(-39.35, 43.05)
ax.set_xticks(xticks)
ax.set_yticks(yticks)
ax.tick_params(labelsize=15.7, length=5, width=1.5, pad=4)
ax.set_xlabel('TSNE 1', fontsize=18.3, labelpad=6.5)
ax.set_ylabel('TSNE 2', fontsize=18.3, labelpad=7.5)
for side in ['top', 'right']:
    ax.spines[side].set_visible(False)
for side in ['left', 'bottom']:
    ax.spines[side].set_linewidth(1.8)

handles = [Line2D([], [], linestyle='', marker='o', markersize=8.5, color=c, alpha=0.6,
                  markeredgewidth=0) for c in colours]
leg = fig.legend(handles, cell_lines, title='cell.line', loc='upper left',
                 bbox_to_anchor=(1207 / 1344, 1 - 349 / 960), frameon=False, fontsize=15.7,
                 title_fontsize=18.3, alignment='left', labelspacing=0.34, handletextpad=0.65,
                 handlelength=1.3, borderpad=0.5)
leg._legend_box.sep = 15

fig.savefig('out.png', dpi=100)
